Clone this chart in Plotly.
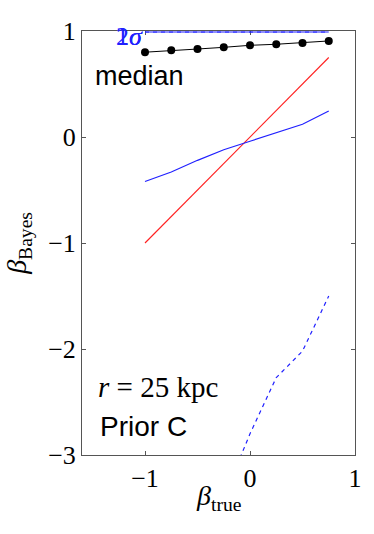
import plotly.graph_objects as go

beta_true = [-1.0, -0.75, -0.5, -0.25, 0.0, 0.25, 0.5, 0.75]
median = [0.80, 0.818, 0.83, 0.846, 0.865, 0.875, 0.887, 0.906]
lower_1sigma = [-0.42, -0.33, -0.22, -0.12, -0.04, 0.04, 0.12, 0.245]
upper_1sigma = [0.99, 0.99, 0.99, 0.99, 0.99, 0.99, 0.99, 0.99]
lower_2sigma = [-4.6, -4.2, -3.8, -3.4, -2.8, -2.27, -2.02, -1.5]
upper_2sigma = [0.99, 0.99, 0.99, 0.99, 0.99, 0.99, 0.99, 0.99]
identity = beta_true

x_ticks = [-1, 0, 1]
x_ticklabels = ["\u22121", "0", "1"]
y_ticks = [-3, -2, -1, 0, 1]
y_ticklabels = ["\u22123", "\u22122", "\u22121", "0", "1"]

serif = "Liberation Serif, DejaVu Serif, serif"
sans = "Liberation Sans, Arial, sans-serif"
blue = "#2020ff"

fig = go.Figure()
fig.add_trace(go.Scatter(x=beta_true, y=upper_2sigma, mode="lines",
                         line=dict(color=blue, width=1, dash="4px,4px")))
fig.add_trace(go.Scatter(x=beta_true, y=identity, mode="lines",
                         line=dict(color="#ff2020", width=1.1)))
fig.add_trace(go.Scatter(x=beta_true, y=lower_2sigma, mode="lines",
                         line=dict(color=blue, width=1.2, dash="4px,4px")))
fig.add_trace(go.Scatter(x=beta_true, y=lower_1sigma, mode="lines",
                         line=dict(color=blue, width=1.2)))
fig.add_trace(go.Scatter(x=beta_true, y=upper_1sigma, mode="lines",
                         line=dict(color=blue, width=1.1)))
fig.add_trace(go.Scatter(x=beta_true, y=median, mode="lines+markers",
                         line=dict(color="black", width=1),
                         marker=dict(color="black", size=8), cliponaxis=False))

fig.update_layout(
    width=374, height=534,
    margin=dict(l=82, r=16, t=31, b=79),
    plot_bgcolor="white", paper_bgcolor="white",
    showlegend=False,
    font=dict(family=serif, size=22, color="black"),
)
axis_style = dict(ticks="inside", ticklen=4, tickcolor="#555", mirror="ticks",
                  showline=True, linecolor="#555", linewidth=1, showgrid=False,
                  zeroline=False, tickfont=dict(family=serif, size=26),
                  layer="below traces")
fig.update_xaxes(range=[-1.6, 1.0], tickvals=x_ticks, ticktext=x_ticklabels, **axis_style)
fig.update_yaxes(range=[-3.0, 1.0], tickvals=y_ticks, ticktext=y_ticklabels, **axis_style)

# axis titles
fig.add_annotation(x=0.5, y=-0.1, xref="paper", yref="paper", yanchor="middle",
                   text="<i>β</i><sub>true</sub>", showarrow=False,
                   font=dict(family=serif, size=28, color="black"))
fig.add_annotation(x=-0.235, y=0.5, xref="paper", yref="paper", xanchor="center",
                   text="<i>β</i><sub>Bayes</sub>", showarrow=False, textangle=-90,
                   font=dict(family=serif, size=28, color="black"))

fig.add_annotation(x=-1.15, y=0.95, xref="x", yref="y", text="1<i>σ</i>", showarrow=False,
                   font=dict(family=serif, size=26, color=blue))
fig.add_annotation(x=-1.15, y=0.95, xref="x", yref="y", text="2<i>σ</i>", showarrow=False,
                   font=dict(family=serif, size=26, color=blue))
fig.add_annotation(x=-1.5, y=0.58, xref="x", yref="y", xanchor="left", text="median",
                   showarrow=False, font=dict(family=sans, size=27, color="black"))
fig.add_annotation(x=-1.47, y=-2.36, xref="x", yref="y", xanchor="left",
                   text="<i>r</i> = 25 kpc", showarrow=False,
                   font=dict(family=serif, size=29, color="black"))
fig.add_annotation(x=-1.45, y=-2.73, xref="x", yref="y", xanchor="left", text="Prior C",
                   showarrow=False, font=dict(family=sans, size=28, color="black"))

fig.write_html("out.html", config={"displayModeBar": False},
               post_script="document.body.style.margin='0';")
